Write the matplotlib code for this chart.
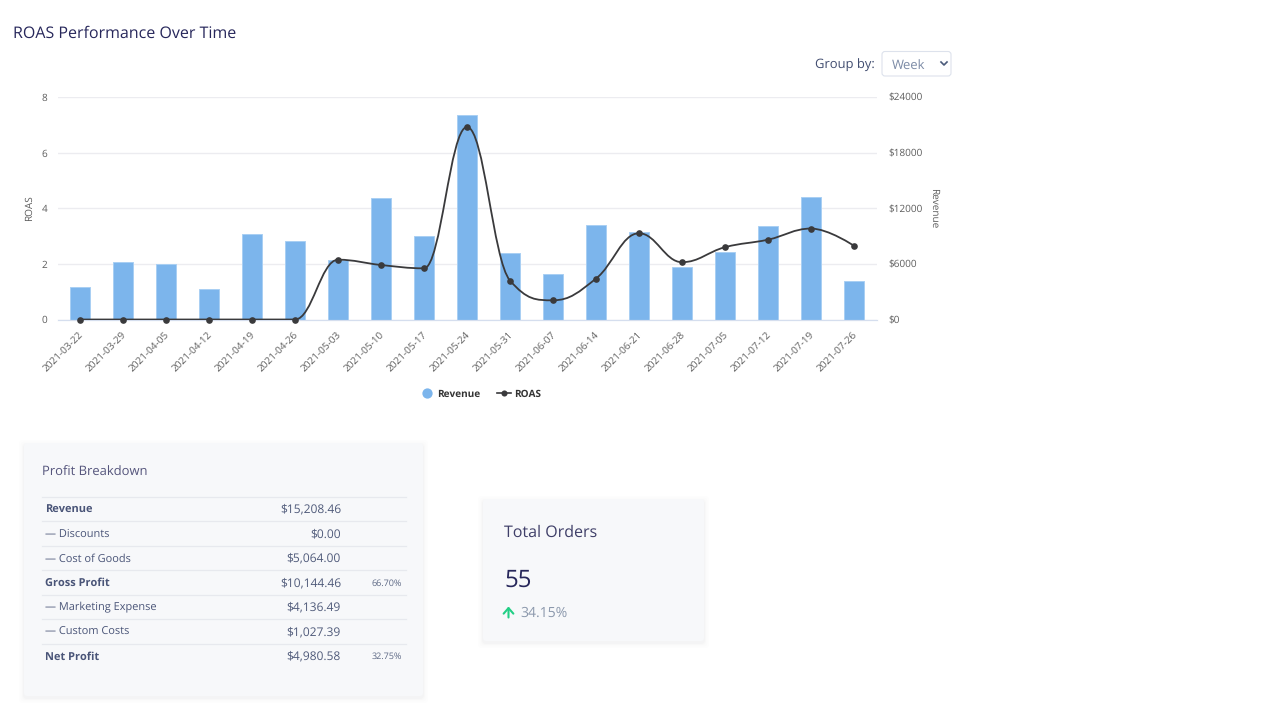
import matplotlib
matplotlib.use("Agg")
import matplotlib.pyplot as plt
from matplotlib.lines import Line2D
from matplotlib.patches import FancyBboxPatch, PathPatch
from matplotlib.path import Path
from matplotlib.transforms import ScaledTranslation

plt.rcParams["font.family"] = ["Open Sans", "DejaVu Sans"]
plt.rcParams["text.hinting"] = "no_hinting"
plt.rcParams["text.hinting_factor"] = 1

weeks = ["2021-03-22", "2021-03-29", "2021-04-05", "2021-04-12", "2021-04-19",
         "2021-04-26", "2021-05-03", "2021-05-10", "2021-05-17", "2021-05-24",
         "2021-05-31", "2021-06-07", "2021-06-14", "2021-06-21", "2021-06-28",
         "2021-07-05", "2021-07-12", "2021-07-19", "2021-07-26"]
revenue = [3500, 6170, 5990, 3260, 9230, 8430, 6420, 13100, 9010, 22060,
           7140, 4870, 10230, 9440, 5660, 7280, 10050, 13180, 4150]
roas = [0, 0, 0, 0, 0, 0, 2.15, 1.96, 1.84, 6.92,
        1.40, 0.69, 1.47, 3.10, 2.06, 2.60, 2.87, 3.27, 2.65]
roas_ticks = [0, 2, 4, 6, 8]
revenue_ticks = [0, 6000, 12000, 18000, 24000]

table_labels = ["Revenue", "— Discounts", "— Cost of Goods", "Gross Profit",
                "— Marketing Expense", "— Custom Costs", "Net Profit"]
table_amounts = ["$15,208.46", "$0.00", "$5,064.00", "$10,144.46",
                 "$4,136.49", "$1,027.39", "$4,980.58"]
table_pcts = ["", "", "", "66.70%", "", "", "32.75%"]
table_bold = [True, False, False, True, False, False, True]


def spline_path(xs, ys):
    # same control point rule as a Highcharts spline, no overshoot at the peaks
    s = 1.5
    d = s + 1
    conts = []
    for i in range(len(xs)):
        if i == 0 or i == len(xs) - 1:
            conts.append((xs[i], ys[i], xs[i], ys[i]))
            continue
        lx = (s * xs[i] + xs[i - 1]) / d
        ly = (s * ys[i] + ys[i - 1]) / d
        rx = (s * xs[i] + xs[i + 1]) / d
        ry = (s * ys[i] + ys[i + 1]) / d
        corr = (ry - ly) * (rx - xs[i]) / (rx - lx) + ys[i] - ry
        ly += corr
        ry += corr
        if (ly > ys[i - 1] and ly > ys[i]) or (ly < ys[i - 1] and ly < ys[i]):
            ly = max(ys[i - 1], ys[i]) if ly > ys[i] else min(ys[i - 1], ys[i])
            ry = 2 * ys[i] - ly
        if (ry > ys[i + 1] and ry > ys[i]) or (ry < ys[i + 1] and ry < ys[i]):
            ry = max(ys[i + 1], ys[i]) if ry > ys[i] else min(ys[i + 1], ys[i])
            ly = 2 * ys[i] - ry
        conts.append((lx, ly, rx, ry))
    verts = [(xs[0], ys[0])]
    codes = [Path.MOVETO]
    for i in range(1, len(xs)):
        verts += [(conts[i - 1][2], conts[i - 1][3]), (conts[i][0], conts[i][1]), (xs[i], ys[i])]
        codes += [Path.CURVE4] * 3
    return Path(verts, codes)


W, H = 1280, 720
fig = plt.figure(figsize=(12.8, 7.2), dpi=100, facecolor="white")

# page layer in pixel coordinates, for the cards and the select box
page = fig.add_axes([0, 0, 1, 1])
page.set_xlim(0, W)
page.set_ylim(H, 0)
page.axis("off")


def card(x0, y0, x1, y1):
    for grow, alpha in [(5, 0.006), (3.5, 0.008), (2, 0.012), (1, 0.016)]:
        page.add_patch(FancyBboxPatch((x0 - grow, y0 - grow + 2), x1 - x0 + 2 * grow, y1 - y0 + 2 * grow,
                                      boxstyle="round,pad=0,rounding_size=4", fc="#1a2040", ec="none", alpha=alpha))
    page.add_patch(FancyBboxPatch((x0, y0), x1 - x0, y1 - y0, boxstyle="round,pad=0,rounding_size=3",
                                  fc="#f7f8fa", ec="none"))


page.text(13, 33.5, "ROAS Performance Over Time", fontsize=11.45, color="#27275b", va="center")

# group by select
page.text(875, 66, "Group by:", fontsize=9.6, color="#414d70", va="center", ha="right")
page.add_patch(FancyBboxPatch((882, 51.5), 69, 24.5, boxstyle="round,pad=0,rounding_size=3", fc="white",
                              ec="#dde2ec", lw=0.8))
page.text(892, 66, "Week", fontsize=9, color="#7c8ba6", va="center")
page.plot([941, 944, 947], [62, 65, 62], color="#4a5a7a", lw=1.2)

# profit card
card(24, 443, 423, 696)
page.text(42, 472.5, "Profit Breakdown", fontsize=9.6, color="#55557c", va="center")
for i in range(7):
    line_y = 496.5 + i * 24.55
    page.plot([42, 406], [line_y, line_y], color="#e7e9ee", lw=0.9)
    text_y = line_y + 13
    page.text(45, text_y, table_labels[i], fontsize=8.2, va="center", color="#4a5578",
              fontweight="bold" if table_bold[i] else "normal")
    page.text(341, text_y, table_amounts[i], fontsize=8.3, va="center", ha="right", color="#4f5a7a")
    if table_pcts[i]:
        page.text(402, text_y, table_pcts[i], fontsize=6.8, va="center", ha="right", color="#5c6884")

# orders card
card(483, 499, 704, 641)
page.text(504, 532.5, "Total Orders", fontsize=11.7, color="#3f3f68", va="center")
page.text(504, 581, "55", fontsize=17.5, color="#27275b", va="center")
page.annotate("", xy=(508.5, 606.5), xytext=(508.5, 617.5),
              arrowprops=dict(arrowstyle="->,head_width=0.35,head_length=0.4", color="#22cf85", lw=1.5,
                              shrinkA=0, shrinkB=0, mutation_scale=10))
page.text(520, 613, "34.15%", fontsize=9.8, color="#8b98ac", va="center")

# chart
left, right, top, bottom = 58.3, 877, 97, 319.5
ax_roas = fig.add_axes([left / W, 1 - bottom / H, (right - left) / W, (bottom - top) / H])
ax_rev = ax_roas.twinx()
ax_roas.set_zorder(3)
ax_rev.set_zorder(2)
ax_roas.patch.set_visible(False)
ax_rev.patch.set_visible(False)

x = list(range(len(weeks)))
ax_rev.bar(x, revenue, width=0.48, color="#7cb5ec", edgecolor="#a9cff3", linewidth=0.7, zorder=2)
ax_rev.set_ylim(0, 24000)
ax_rev.set_yticks(revenue_ticks, [f"${v}" for v in revenue_ticks])
ax_rev.grid(axis="y", color="#ececf0", lw=1, zorder=0)
ax_rev.set_axisbelow(True)

ax_roas.add_patch(PathPatch(spline_path(x, roas), fc="none", ec="#3a3a3c", lw=1.3, zorder=4))
ax_roas.plot(x, roas, ls="none", marker="o", ms=4.8, mew=0, color="#3a3a3c", clip_on=False, zorder=5)
ax_roas.set_xlim(-0.505, 18.535)
ax_roas.set_ylim(0, 8)
ax_roas.set_yticks(roas_ticks)
ax_roas.set_xticks(x)
ax_roas.set_xticklabels(weeks, rotation=45, ha="right", va="top", rotation_mode="anchor")

for a in (ax_roas, ax_rev):
    for side in ("top", "left", "right"):
        a.spines[side].set_visible(False)
    a.spines["bottom"].set_color("#d5deee")
    a.tick_params(length=0, labelsize=7, labelcolor="#5c5c5c")
ax_roas.tick_params(axis="y", pad=8)
ax_rev.tick_params(axis="y", pad=8)
ax_roas.tick_params(axis="x", pad=7, labelsize=7.3)

# nudge tick labels to sit like the browser text
shift = ScaledTranslation(-2 / 100, 0, fig.dpi_scale_trans)
for lbl in ax_roas.get_xticklabels():
    lbl.set_transform(lbl.get_transform() + shift)

ax_roas.set_ylabel("ROAS", fontsize=7.2, color="#5c5c5c", va="center")
ax_roas.yaxis.set_label_coords((29 - left) / (right - left), 0.5)
ax_rev.set_ylabel("Revenue", fontsize=7.2, color="#5c5c5c", rotation=270, va="center")
ax_rev.yaxis.set_label_coords((934 - left) / (right - left), 0.5)

handles = [
    Line2D([], [], ls="none", marker="o", ms=7.4, mew=0, color="#7cb5ec"),
    Line2D([], [], color="#3a3a3c", lw=1.2, marker="o", ms=4.4, mew=0),
]
fig.legend(handles, ["Revenue", "ROAS"], loc="center", bbox_to_anchor=(480.5 / W, 1 - 394 / H), ncol=2,
           frameon=False, handlelength=1.35, handletextpad=0.35, columnspacing=1.7,
           prop={"size": 7.2, "weight": "bold"}, labelcolor="#333333")

fig.savefig("out.png", dpi=100)
